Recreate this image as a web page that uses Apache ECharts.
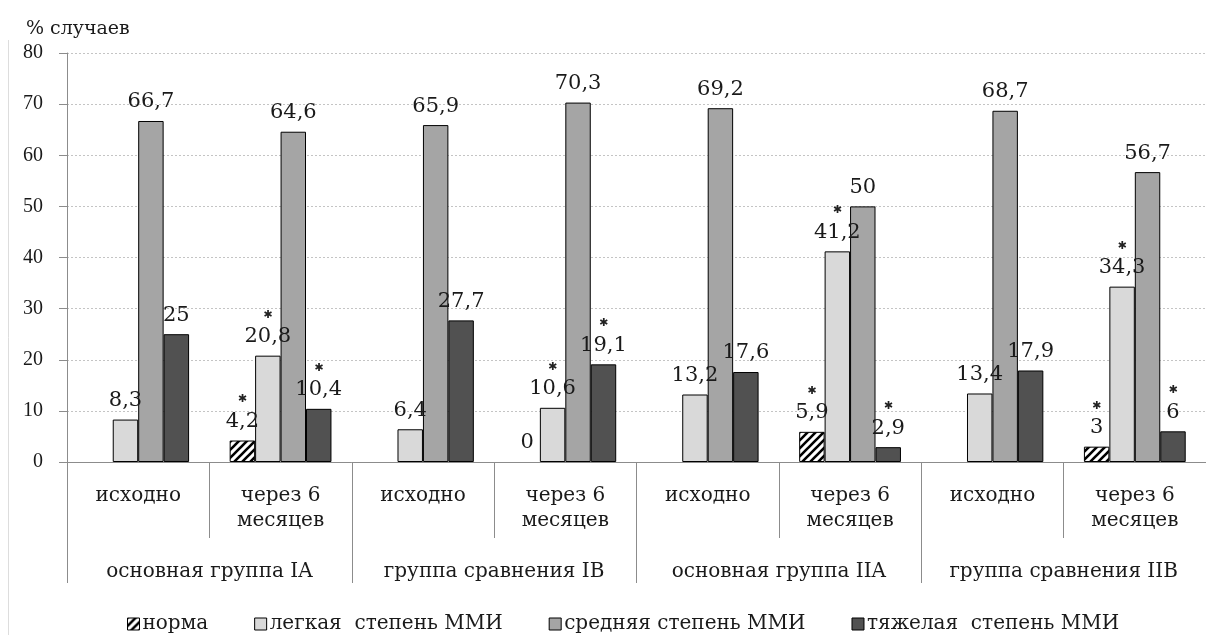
<!DOCTYPE html>
<html>
<head>
<meta charset="utf-8">
<script src="https://cdn.jsdelivr.net/npm/echarts@6/dist/echarts.min.js"></script>
<style>
  html, body { margin: 0; padding: 0; background: #fff; }
  #chart { width: 1206px; height: 635px; }
</style>
</head>
<body>
<div id="chart"></div>
<script>
const categories = [
  'исходно', 'через 6\nмесяцев',
  'исходно', 'через 6\nмесяцев',
  'исходно', 'через 6\nмесяцев',
  'исходно', 'через 6\nмесяцев'
];
const groups = ['основная группа IA', 'группа сравнения IB', 'основная группа IIA', 'группа сравнения IIB'];
const seriesNames = ['норма', 'легкая  степень ММИ', 'средняя степень ММИ', 'тяжелая  степень ММИ'];

const normaValues = [null, 4.2, null, 0, null, 5.9, null, 3];
const mildValues = [8.3, 20.8, 6.4, 10.6, 13.2, 41.2, 13.4, 34.3];
const moderateValues = [66.7, 64.6, 65.9, 70.3, 69.2, 50, 68.7, 56.7];
const severeValues = [25, 10.4, 27.7, 19.1, 17.6, 2.9, 17.9, 6];

// достоверные различия (звёздочка над подписью)
const normaStars = [0, 1, 0, 0, 0, 1, 0, 1];
const mildStars = [0, 1, 0, 1, 0, 1, 0, 1];
const moderateStars = [0, 0, 0, 0, 0, 0, 0, 0];
const severeStars = [0, 1, 0, 1, 0, 1, 0, 1];

const serif = 'DejaVu Serif';
const textColor = '#1a1a1a';

function hatchPattern () {
  const c = document.createElement('canvas');
  c.width = 8;
  c.height = 8;
  const ctx = c.getContext('2d');
  ctx.fillStyle = '#fff';
  ctx.fillRect(0, 0, 8, 8);
  ctx.strokeStyle = '#000';
  ctx.lineWidth = 2.6;
  ctx.beginPath();
  ctx.moveTo(-2, 10); ctx.lineTo(10, -2);
  ctx.moveTo(-2, 2); ctx.lineTo(2, -2);
  ctx.moveTo(6, 10); ctx.lineTo(10, 6);
  ctx.stroke();
  return { image: c, repeat: 'repeat' };
}

function makeSeries (name, values, stars, color) {
  return {
    name: name,
    type: 'bar',
    barGap: '0%',
    barCategoryGap: '28.5%',
    itemStyle: { color: color, borderColor: '#000', borderWidth: 1 },
    label: {
      show: true,
      position: 'top',
      distance: 8,
      formatter: function (p) {
        const txt = String(p.value).replace('.', ',');
        return (stars[p.dataIndex] ? '{s|✱}\n' : '') + '{v|' + txt + '}';
      },
      rich: {
        v: { fontFamily: serif, fontSize: 21, lineHeight: 22, color: textColor },
        s: { fontFamily: 'DejaVu Sans', fontSize: 11, lineHeight: 22, color: '#222' }
      }
    },
    // нулевой столбик без рамки, чтобы не было лишней черты на оси
    data: values.map(v => (v === 0 ? { value: 0, itemStyle: { borderWidth: 0 } } : v))
  };
}

const chart = echarts.init(document.getElementById('chart'), null, { renderer: 'canvas' });

const option = {
  animation: false,
  backgroundColor: '#fff',
  title: {
    text: '% случаев',
    left: 21,
    top: 15,
    textStyle: { fontFamily: serif, fontSize: 19, fontWeight: 'normal', color: textColor }
  },
  legend: {
    left: 127,
    top: 614,
    padding: 0,
    itemWidth: 12,
    itemHeight: 12,
    itemGap: 46,
    icon: 'rect',
    itemStyle: { borderColor: '#000', borderWidth: 1 },
    textStyle: { fontFamily: serif, fontSize: 20, color: textColor, padding: [0, 0, 0, -2] },
    data: seriesNames
  },
  grid: { left: 67, top: 53, width: 1150, height: 409 },
  xAxis: [
    {
      type: 'category',
      data: categories,
      axisLine: { lineStyle: { color: '#8c8c8c', width: 1 } },
      axisTick: { show: true, interval: 0, length: 76, lineStyle: { color: '#8c8c8c' } },
      axisLabel: {
        interval: 0,
        margin: 21,
        fontFamily: serif,
        fontSize: 20,
        lineHeight: 25,
        color: textColor
      },
      splitLine: { show: false }
    },
    {
      type: 'category',
      position: 'bottom',
      data: groups,
      axisLine: { show: false },
      axisTick: { show: true, interval: 0, length: 121, lineStyle: { color: '#8c8c8c' } },
      axisLabel: {
        interval: 0,
        margin: 97,
        fontFamily: serif,
        fontSize: 20,
        lineHeight: 25,
        color: textColor
      },
      splitLine: { show: false }
    }
  ],
  yAxis: {
    type: 'value',
    min: 0,
    max: 80,
    interval: 10,
    axisLine: { show: true, lineStyle: { color: '#8c8c8c' } },
    axisTick: { show: true, length: 8, lineStyle: { color: '#8c8c8c' } },
    axisLabel: { margin: 24, fontFamily: 'Liberation Serif', fontSize: 20, color: textColor },
    splitLine: { show: true, lineStyle: { color: '#c4c4c4', type: [2, 2], width: 1 } }
  },
  graphic: [
    { type: 'line', shape: { x1: 8.5, y1: 40, x2: 8.5, y2: 635 }, style: { stroke: '#dddddd', lineWidth: 1 }, silent: true }
  ],
  series: [
    makeSeries(seriesNames[0], normaValues, normaStars, hatchPattern()),
    makeSeries(seriesNames[1], mildValues, mildStars, '#d9d9d9'),
    makeSeries(seriesNames[2], moderateValues, moderateStars, '#a5a5a5'),
    makeSeries(seriesNames[3], severeValues, severeStars, '#515151')
  ]
};

chart.setOption(option);
</script>
</body>
</html>
